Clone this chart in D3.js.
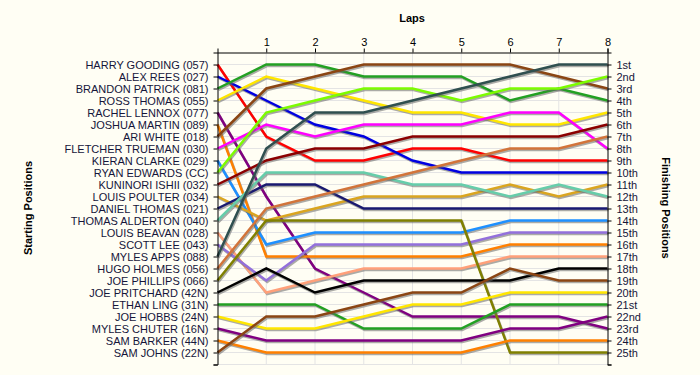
<!DOCTYPE html>
<html>
<head>
<meta charset="utf-8">
<script src="https://cdn.jsdelivr.net/npm/d3@7"></script>
<style>
  body { margin: 0; background: #fffef4; }
  svg { display: block; font-family: "Liberation Sans", Arial, sans-serif; }
</style>
</head>
<body>
<svg id="chart"></svg>
<script>
// starting grid, top to bottom
var drivers = [
    "HARRY GOODING (057)", "ALEX REES (027)", "BRANDON PATRICK (081)", "ROSS THOMAS (055)",
    "RACHEL LENNOX (077)", "JOSHUA MARTIN (089)", "ARI WHITE (018)", "FLETCHER TRUEMAN (030)",
    "KIERAN CLARKE (029)", "RYAN EDWARDS (CC)", "KUNINORI ISHII (032)", "LOUIS POULTER (034)",
    "DANIEL THOMAS (021)", "THOMAS ALDERTON (040)", "LOUIS BEAVAN (028)", "SCOTT LEE (043)",
    "MYLES APPS (088)", "HUGO HOLMES (056)", "JOE PHILLIPS (066)", "JOE PRITCHARD (42N)",
    "ETHAN LING (31N)", "JOE HOBBS (24N)", "MYLES CHUTER (16N)", "SAM BARKER (44N)", "SAM JOHNS (22N)"
];

var laps = [0, 1, 2, 3, 4, 5, 6, 7, 8];

// position of each driver after each lap (lap 0 = start)
var positions = [
    [1, 7, 9, 9, 8, 8, 9, 9, 9],
    [2, 4, 6, 7, 9, 10, 10, 10, 10],
    [3, 1, 1, 2, 2, 2, 4, 3, 4],
    [4, 2, 3, 4, 5, 5, 6, 6, 5],
    [5, 12, 18, 20, 22, 22, 22, 22, 23],
    [6, 17, 17, 17, 17, 17, 16, 16, 16],
    [7, 3, 2, 1, 1, 1, 1, 2, 3],
    [8, 6, 7, 6, 6, 6, 5, 5, 8],
    [9, 16, 15, 15, 15, 15, 14, 14, 14],
    [10, 5, 4, 3, 3, 4, 3, 3, 2],
    [11, 9, 8, 8, 7, 7, 7, 7, 6],
    [12, 14, 13, 12, 12, 12, 11, 12, 11],
    [13, 11, 11, 13, 13, 13, 13, 13, 13],
    [14, 10, 10, 10, 11, 11, 12, 11, 12],
    [15, 20, 19, 18, 18, 18, 17, 17, 17],
    [16, 19, 16, 16, 16, 16, 15, 15, 15],
    [17, 8, 5, 5, 4, 3, 2, 1, 1],
    [18, 13, 12, 11, 10, 9, 8, 8, 7],
    [19, 14, 14, 14, 14, 14, 25, 25, 25],
    [20, 18, 20, 19, 19, 19, 19, 18, 18],
    [21, 21, 21, 23, 23, 23, 21, 21, 21],
    [22, 23, 23, 22, 21, 21, 20, 20, 20],
    [23, 24, 24, 24, 24, 24, 23, 23, 22],
    [24, 25, 25, 25, 25, 25, 24, 24, 24],
    [25, 22, 22, 21, 20, 20, 18, 19, 19]
];

var finishLabels = ["1st", "2nd", "3rd", "4th", "5th", "6th", "7th", "8th", "9th", "10th",
    "11th", "12th", "13th", "14th", "15th", "16th", "17th", "18th", "19th", "20th",
    "21st", "22nd", "23rd", "24th", "25th"];

var colours = [
    "#ff0000", "#0000e0", "#22a022", "#ffe600", "#800080", "#ff8000", "#8b4513", "#ff00ff",
    "#1e90ff", "#7cfc00", "#8b0000", "#daa520", "#191970", "#66cdaa", "#ffa07a", "#9370db",
    "#2f4f4f", "#d2743a", "#808000", "#000000", "#22a022", "#ffe600", "#800080", "#ff8000", "#8b4513"
];

var width = 700, height = 375;

var svg = d3.select("#chart")
    .attr("width", width)
    .attr("height", height);

svg.append("rect")
    .attr("width", width)
    .attr("height", height)
    .attr("fill", "#fffef4");

var x = d3.scaleLinear().domain([0, 8]).range([217.5, 607.5]);
var y = d3.scaleLinear().domain([0, 26]).range([52.5, 364.5]);

var rows = d3.range(1, 27);

// grid
svg.append("g").selectAll("line.h")
    .data(rows)
    .enter().append("line")
    .attr("x1", x(0)).attr("x2", x(8))
    .attr("y1", d => y(d)).attr("y2", d => y(d))
    .attr("stroke", "#e4e4e4");

svg.append("g").selectAll("line.v")
    .data(laps.slice(1, 8))
    .enter().append("line")
    .attr("x1", d => x(d)).attr("x2", d => x(d))
    .attr("y1", y(0)).attr("y2", y(26))
    .attr("stroke", "#e4e4e4");

// lines
var line = d3.line()
    .x((d, i) => x(laps[i]))
    .y(d => y(d));

var lines = svg.append("g");

positions.forEach(function (p, i) {
    lines.append("path")
        .attr("d", line(p))
        .attr("fill", "none")
        .attr("stroke", "#666")
        .attr("stroke-opacity", 0.55)
        .attr("stroke-width", 2.5)
        .attr("stroke-linejoin", "miter")
        .attr("transform", "translate(1,1.5)");
    lines.append("path")
        .attr("d", line(p))
        .attr("fill", "none")
        .attr("stroke", colours[i])
        .attr("stroke-width", 2.5);
});

// axes
var xAxis = svg.append("g")
    .attr("transform", "translate(0," + y(0) + ")")
    .call(d3.axisTop(x).tickValues(laps.slice(1)).tickSize(4).tickPadding(3).tickFormat(d3.format("d")));

var leftAxis = svg.append("g")
    .attr("transform", "translate(" + x(0) + ",0)")
    .call(d3.axisLeft(y).tickValues(rows).tickSize(4).tickPadding(5)
        .tickFormat(d => drivers[d - 1] || ""));

var rightAxis = svg.append("g")
    .attr("transform", "translate(" + x(8) + ",0)")
    .call(d3.axisRight(y).tickValues(rows).tickSize(4).tickPadding(5)
        .tickFormat(d => finishLabels[d - 1] || ""));

[xAxis, leftAxis, rightAxis].forEach(function (a) {
    a.attr("color", "#000")
        .selectAll("text")
        .attr("font-size", "11px")
        .attr("font-family", "'Liberation Sans', Arial, sans-serif")
        .attr("fill", "#15153a");
});
xAxis.selectAll("text").attr("fill", "#000");

// titles
svg.append("text")
    .attr("x", 412)
    .attr("y", 22)
    .attr("text-anchor", "middle")
    .attr("font-size", "11px")
    .attr("font-weight", "bold")
    .text("Laps");

svg.append("text")
    .attr("transform", "translate(32,208) rotate(-90)")
    .attr("text-anchor", "middle")
    .attr("font-size", "11px")
    .attr("font-weight", "bold")
    .text("Starting Positions");

svg.append("text")
    .attr("transform", "translate(662,208) rotate(90)")
    .attr("text-anchor", "middle")
    .attr("font-size", "11px")
    .attr("font-weight", "bold")
    .text("Finishing Positions");
</script>
</body>
</html>
